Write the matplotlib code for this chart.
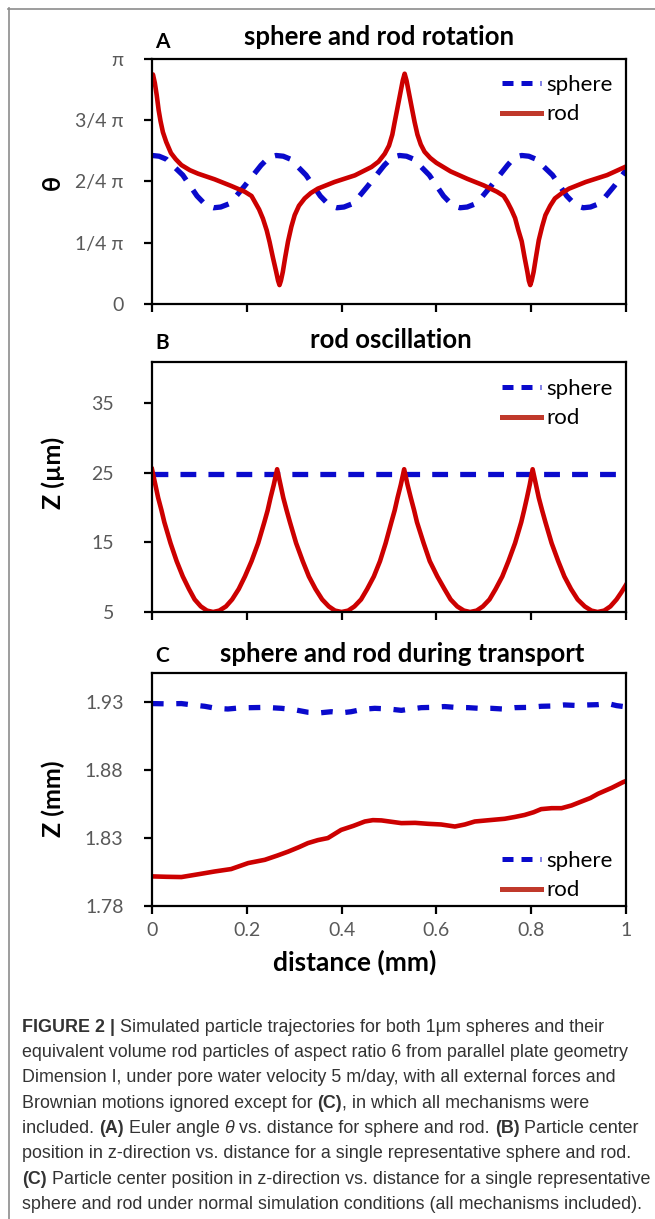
import numpy as np
import matplotlib
matplotlib.use("Agg")
import matplotlib.pyplot as plt
from matplotlib.lines import Line2D

# ==============================
# DATA
# ==============================

# panel A : theta / pi vs distance (mm)
a_sphere_x = [0.000, 0.015, 0.030, 0.065, 0.095, 0.115, 0.130, 0.145, 0.165, 0.195, 0.230,
              0.247, 0.262, 0.277, 0.292, 0.325, 0.355, 0.375, 0.390, 0.405, 0.425, 0.455,
              0.490, 0.507, 0.522, 0.537, 0.552, 0.585, 0.615, 0.635, 0.650, 0.665, 0.685,
              0.715, 0.750, 0.765, 0.780, 0.795, 0.810, 0.845, 0.875, 0.895, 0.910, 0.925,
              0.945, 0.975, 1.000]
a_sphere_y = [0.605, 0.602, 0.590, 0.525, 0.440, 0.400, 0.392, 0.395, 0.410, 0.480, 0.565,
              0.598, 0.605, 0.602, 0.590, 0.525, 0.440, 0.400, 0.392, 0.395, 0.410, 0.480,
              0.565, 0.598, 0.605, 0.602, 0.590, 0.525, 0.440, 0.400, 0.392, 0.395, 0.410,
              0.480, 0.565, 0.598, 0.605, 0.602, 0.590, 0.525, 0.440, 0.400, 0.392, 0.395,
              0.410, 0.480, 0.545]

a_rod_x = [0.000, 0.002, 0.006, 0.010, 0.014, 0.018, 0.023, 0.030, 0.040, 0.050, 0.062,
           0.080, 0.097, 0.132, 0.167, 0.196, 0.210, 0.217, 0.226, 0.234, 0.242, 0.248,
           0.255, 0.262, 0.266, 0.269, 0.272, 0.276, 0.281, 0.287, 0.294, 0.301, 0.310,
           0.322, 0.335, 0.350, 0.385, 0.428, 0.463, 0.478, 0.491, 0.500, 0.507, 0.512,
           0.518, 0.524, 0.529, 0.533, 0.537, 0.542, 0.548, 0.554, 0.560, 0.567, 0.575,
           0.587, 0.600, 0.630, 0.665, 0.700, 0.728, 0.742, 0.750, 0.758, 0.766, 0.773,
           0.780, 0.786, 0.792, 0.795, 0.798, 0.801, 0.805, 0.810, 0.816, 0.823, 0.830,
           0.840, 0.850, 0.865, 0.880, 0.915, 0.960, 1.000]
a_rod_y = [0.925, 0.935, 0.900, 0.850, 0.790, 0.745, 0.700, 0.660, 0.615, 0.590, 0.566,
           0.545, 0.531, 0.508, 0.481, 0.457, 0.440, 0.416, 0.385, 0.348, 0.300, 0.253,
           0.190, 0.131, 0.095, 0.077, 0.095, 0.131, 0.190, 0.255, 0.315, 0.362, 0.400,
           0.430, 0.452, 0.470, 0.497, 0.524, 0.558, 0.580, 0.612, 0.645, 0.690, 0.741,
           0.800, 0.860, 0.910, 0.938, 0.910, 0.860, 0.800, 0.741, 0.690, 0.650, 0.620,
           0.595, 0.575, 0.540, 0.510, 0.483, 0.457, 0.440, 0.415, 0.385, 0.350, 0.300,
           0.255, 0.190, 0.130, 0.095, 0.077, 0.095, 0.130, 0.190, 0.260, 0.315, 0.362,
           0.400, 0.430, 0.452, 0.470, 0.497, 0.525, 0.560]

# panel B : Z (um) vs distance (mm)
b_sphere_x = [0.0, 1.0]
b_sphere_y = [24.8, 24.8]

b_rod_x = [0.000, 0.007, 0.013, 0.020, 0.026, 0.039, 0.052, 0.065, 0.078, 0.090, 0.103,
           0.116, 0.129, 0.142, 0.156, 0.169, 0.183, 0.196, 0.210, 0.224, 0.237, 0.244,
           0.250, 0.257, 0.264, 0.271, 0.277, 0.284, 0.291, 0.304, 0.318, 0.331, 0.345,
           0.359, 0.373, 0.386, 0.400, 0.414, 0.427, 0.441, 0.454, 0.468, 0.481, 0.493,
           0.505, 0.512, 0.518, 0.525, 0.532, 0.539, 0.546, 0.553, 0.559, 0.573, 0.586,
           0.602, 0.617, 0.630, 0.644, 0.658, 0.671, 0.685, 0.698, 0.712, 0.725, 0.739,
           0.752, 0.766, 0.779, 0.785, 0.791, 0.797, 0.803, 0.810, 0.816, 0.823, 0.830,
           0.843, 0.857, 0.870, 0.884, 0.898, 0.913, 0.927, 0.940, 0.954, 0.967, 0.980,
           0.990, 1.000]
b_rod_y = [25.5, 23.3, 21.4, 19.6, 17.9, 14.9, 12.3, 10.1, 8.3, 6.8, 5.8,
           5.2, 5.0, 5.2, 5.8, 6.8, 8.3, 10.1, 12.3, 14.9, 17.9, 19.6,
           21.4, 23.3, 25.5, 23.3, 21.4, 19.6, 17.9, 14.9, 12.3, 10.1, 8.3,
           6.8, 5.8, 5.2, 5.0, 5.2, 5.8, 6.8, 8.3, 10.1, 12.3, 14.9,
           17.9, 19.6, 21.4, 23.3, 25.5, 23.3, 21.4, 19.6, 17.9, 14.9, 12.3,
           10.1, 8.3, 6.8, 5.8, 5.2, 5.0, 5.2, 5.8, 6.8, 8.3, 10.1,
           12.3, 14.9, 17.9, 19.6, 21.4, 23.3, 25.5, 23.3, 21.4, 19.6, 17.9,
           14.9, 12.3, 10.1, 8.3, 6.8, 5.8, 5.2, 5.0, 5.2, 5.8, 6.8,
           7.8, 8.9]

# panel C : Z (mm) vs distance (mm)
c_sphere_x = [0.000, 0.030, 0.062, 0.085, 0.111, 0.135, 0.160, 0.185, 0.210, 0.240, 0.273,
              0.300, 0.329, 0.355, 0.378, 0.400, 0.420, 0.445, 0.470, 0.500, 0.526, 0.545,
              0.568, 0.590, 0.617, 0.640, 0.667, 0.690, 0.716, 0.740, 0.765, 0.795, 0.821,
              0.845, 0.870, 0.895, 0.920, 0.940, 0.962, 0.980, 0.995]
c_sphere_y = [1.9290, 1.9288, 1.9290, 1.9280, 1.9270, 1.9255, 1.9250, 1.9258, 1.9260, 1.9262,
              1.9255, 1.9245, 1.9226, 1.9222, 1.9230, 1.9222, 1.9230, 1.9248, 1.9255, 1.9250,
              1.9240, 1.9250, 1.9260, 1.9262, 1.9268, 1.9262, 1.9260, 1.9255, 1.9255, 1.9250,
              1.9260, 1.9262, 1.9270, 1.9272, 1.9280, 1.9276, 1.9280, 1.9282, 1.9290, 1.9275,
              1.9268]

c_rod_x = [0.000, 0.030, 0.062, 0.100, 0.132, 0.167, 0.203, 0.238, 0.265, 0.287, 0.310,
           0.329, 0.350, 0.371, 0.399, 0.425, 0.449, 0.466, 0.484, 0.505, 0.526, 0.555,
           0.582, 0.610, 0.639, 0.660, 0.681, 0.712, 0.744, 0.765, 0.786, 0.805, 0.821,
           0.843, 0.864, 0.885, 0.906, 0.925, 0.941, 0.970, 0.994, 1.000]
c_rod_y = [1.8018, 1.8015, 1.8013, 1.8035, 1.8054, 1.8072, 1.8116, 1.8140, 1.8172, 1.8200,
           1.8233, 1.8263, 1.8285, 1.8300, 1.8360, 1.8390, 1.8422, 1.8432, 1.8430, 1.8420,
           1.8410, 1.8412, 1.8405, 1.8400, 1.8385, 1.8400, 1.8422, 1.8432, 1.8442, 1.8455,
           1.8470, 1.8490, 1.8513, 1.8520, 1.8520, 1.8540, 1.8569, 1.8595, 1.8626, 1.8670,
           1.8712, 1.8720]

a_yticks = [0, 0.25, 0.5, 0.75, 1.0]
a_yticklabels = ["0", "1/4 \u03c0", "2/4 \u03c0", "3/4 \u03c0", "\u03c0"]
b_yticks = [5, 15, 25, 35]
c_yticks = [1.78, 1.83, 1.88, 1.93]
xticks = [0, 0.2, 0.4, 0.6, 0.8, 1.0]
xticklabels = ["0", "0.2", "0.4", "0.6", "0.8", "1"]

# ==============================
# STYLE
# ==============================

W, H = 655, 1219
BLUE = "#0a0acc"
RED = "#cc0000"
LEG_RED = "#c0392b"
TICK_GRAY = "#595959"
FONT = "Lato"

plt.rcParams["font.family"] = [FONT, "DejaVu Sans"]


def fx(x):
    return x / W


def fy(y):
    return 1 - y / H


def axes_rect(left, top, right, bottom):
    return [fx(left), fy(bottom), (right - left) / W, (bottom - top) / H]


fig = plt.figure(figsize=(W / 100, H / 100), dpi=100)

# grey frame of the figure box
fig.add_artist(Line2D([fx(8), 1.0], [fy(8.5), fy(8.5)], color="#8c8c8c", lw=1.2))
fig.add_artist(Line2D([fx(8.5), fx(8.5)], [fy(8), 0.0], color="#8c8c8c", lw=1.2))


def style_axes(ax, yticks, ylabels, pad, xlabels=False):
    for s in ax.spines.values():
        s.set_linewidth(1.6)
        s.set_color("black")
    ax.set_xlim(0, 1)
    ax.set_xticks(xticks)
    if xlabels:
        ax.set_xticklabels(xticklabels)
    else:
        ax.set_xticklabels([])
    ax.set_yticks(yticks)
    ax.set_yticklabels(ylabels)
    ax.tick_params(axis="both", direction="out", length=5.5, width=1.6,
                   colors="black", labelcolor=TICK_GRAY, labelsize=14)
    ax.tick_params(axis="y", pad=pad)
    ax.tick_params(axis="x", pad=6)


def add_legend(ax, top_y):
    h1 = Line2D([], [], color=BLUE, lw=3.6, dashes=(2.2, 1.6))
    h2 = Line2D([], [], color=LEG_RED, lw=3.6)
    ax.legend([h1, h2], ["sphere", "rod"], loc="upper left",
              bbox_to_anchor=(fx(502), fy(top_y)), bbox_transform=fig.transFigure,
              frameon=False, fontsize=16, handlelength=1.75, handletextpad=0.25,
              labelspacing=0.42, borderpad=0, borderaxespad=0)


# ==============================
# PANEL A
# ==============================

axA = fig.add_axes(axes_rect(152, 58.5, 626, 304))
axA.plot(a_sphere_x, a_sphere_y, color=BLUE, lw=3.8, dashes=(3.0, 2.3))
axA.plot(a_rod_x, a_rod_y, color=RED, lw=3.3, solid_joinstyle="round")
axA.set_ylim(0, 1)
style_axes(axA, a_yticks, a_yticklabels, pad=15)
add_legend(axA, 75)

fig.text(fx(155), fy(42), "A", fontsize=15, fontweight="bold", va="center", ha="left")
fig.text(fx(379), fy(37), "sphere and rod rotation", fontsize=18.5, fontweight="bold",
         va="center", ha="center")
fig.text(fx(52), fy(182), "\u03b8", fontsize=18, fontweight="bold", rotation=90,
         va="center", ha="center")

# ==============================
# PANEL B
# ==============================

axB = fig.add_axes(axes_rect(152, 362, 626, 612))
axB.plot(b_sphere_x, b_sphere_y, color=BLUE, lw=3.8, dashes=(3.0, 2.3))
axB.plot(b_rod_x, b_rod_y, color=RED, lw=3.3, solid_joinstyle="round")
axB.set_ylim(5, 40.9)
style_axes(axB, b_yticks, [str(v) for v in b_yticks], pad=22)
add_legend(axB, 379)

fig.text(fx(155), fy(343), "B", fontsize=15, fontweight="bold", va="center", ha="left")
fig.text(fx(391), fy(340), "rod oscillation", fontsize=18.5, fontweight="bold",
         va="center", ha="center")
fig.text(fx(53), fy(473), "Z (\u00b5m)", fontsize=18, fontweight="bold", rotation=90,
         va="center", ha="center")

# ==============================
# PANEL C
# ==============================

axC = fig.add_axes(axes_rect(152, 673, 626, 906))
axC.plot(c_sphere_x, c_sphere_y, color=BLUE, lw=3.8, dashes=(2.2, 2.4))
axC.plot(c_rod_x, c_rod_y, color=RED, lw=3.3, solid_joinstyle="round")
axC.set_ylim(1.78, 1.9515)
style_axes(axC, c_yticks, ["%.2f" % v for v in c_yticks], pad=15, xlabels=True)
add_legend(axC, 851)

fig.text(fx(155), fy(656), "C", fontsize=15, fontweight="bold", va="center", ha="left")
fig.text(fx(402), fy(654), "sphere and rod during transport", fontsize=18.5,
         fontweight="bold", va="center", ha="center")
fig.text(fx(53), fy(799), "Z (mm)", fontsize=18, fontweight="bold", rotation=90,
         va="center", ha="center")
fig.text(fx(355), fy(962), "distance (mm)", fontsize=19, fontweight="bold",
         va="center", ha="center")

# ==============================
# CAPTION
# ==============================

CAP_FONT = ["Liberation Sans", "DejaVu Sans"]
CAP_COLOR = "#333333"
CAP_SIZE = 12.9

caption = [
    [("FIGURE 2 | ", "bold", "normal"),
     ("Simulated particle trajectories for both 1\u03bcm spheres and their", "normal", "normal")],
    [("equivalent volume rod particles of aspect ratio 6 from parallel plate geometry", "normal", "normal")],
    [("Dimension I, under pore water velocity 5 m/day, with all external forces and", "normal", "normal")],
    [("Brownian motions ignored except for ", "normal", "normal"), ("(C)", "bold", "normal"),
     (", in which all mechanisms were", "normal", "normal")],
    [("included. ", "normal", "normal"), ("(A)", "bold", "normal"),
     (" Euler angle ", "normal", "normal"), ("\u03b8", "normal", "italic"),
     (" vs. distance for sphere and rod. ", "normal", "normal"), ("(B)", "bold", "normal"),
     (" Particle center", "normal", "normal")],
    [("position in z-direction vs. distance for a single representative sphere and rod.", "normal", "normal")],
    [("(C)", "bold", "normal"),
     (" Particle center position in z-direction vs. distance for a single representative", "normal", "normal")],
    [("sphere and rod under normal simulation conditions (all mechanisms included).", "normal", "normal")],
]

renderer = fig.canvas.get_renderer()
for i, line in enumerate(caption):
    x = 22.0
    y = 1025 + 25.4 * i
    for txt, weight, style in line:
        t = fig.text(fx(x), fy(y), txt, fontsize=CAP_SIZE, fontweight=weight,
                     fontstyle=style, family=CAP_FONT, color=CAP_COLOR,
                     va="center_baseline", ha="left")
        x += t.get_window_extent(renderer).width

fig.savefig("out.png", dpi=100)
